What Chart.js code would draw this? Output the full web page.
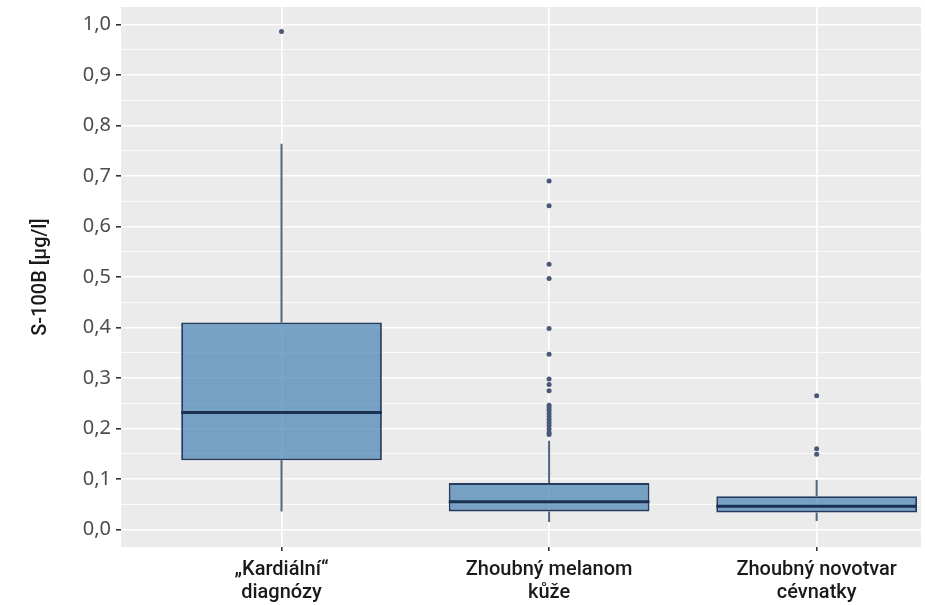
<!DOCTYPE html>
<html>
<head>
<meta charset="utf-8">
<script src="https://cdn.jsdelivr.net/npm/chart.js@4/dist/chart.umd.min.js"></script>
<style>
  html, body { margin: 0; padding: 0; background: #fff; overflow: hidden; }
  #wrap { width: 925px; height: 605px; }
</style>
</head>
<body>
<div id="wrap"><canvas id="chart" width="925" height="605"></canvas></div>
<script>
'use strict';
// categories (multi-line tick labels)
const CATEGORIES = [['„Kardiální“', 'diagnózy'], ['Zhoubný melanom', 'kůže'], ['Zhoubný novotvar', 'cévnatky']];
// box statistics per category
const WHISKER_LOW  = [0.036, 0.015, 0.017];
const Q1           = [0.137, 0.036, 0.034];
const MEDIAN       = [0.232, 0.055, 0.046];
const Q3           = [0.410, 0.092, 0.066];
const WHISKER_HIGH = [0.764, 0.176, 0.098];
const OUTLIERS = [
  [0.986],
  [0.690, 0.641, 0.525, 0.497, 0.398, 0.347, 0.298, 0.287, 0.275,
   0.246, 0.241, 0.236, 0.230, 0.224, 0.218, 0.212, 0.206, 0.199, 0.192, 0.188],
  [0.265, 0.160, 0.149],
];
const Y_TICKS = [0, 0.1, 0.2, 0.3, 0.4, 0.5, 0.6, 0.7, 0.8, 0.9, 1.0];

const BOX_WIDTH = 0.75;
const FONT = '"Noto Sans", "DejaVu Sans", sans-serif';
const FONT_MED = 'Roboto, "Noto Sans", sans-serif';

const pos = i => i + 1;

const boxData = Q1.map((q, i) => ({ x: pos(i), y: [q, Q3[i]] }));

const whiskerData = [];
WHISKER_LOW.forEach((lo, i) => {
  whiskerData.push({ x: pos(i), y: lo }, { x: pos(i), y: Q1[i] }, { x: pos(i), y: null });
  whiskerData.push({ x: pos(i), y: Q3[i] }, { x: pos(i), y: WHISKER_HIGH[i] }, { x: pos(i), y: null });
});

const medianData = [];
MEDIAN.forEach((m, i) => {
  medianData.push({ x: pos(i) - BOX_WIDTH / 2, y: m }, { x: pos(i) + BOX_WIDTH / 2, y: m }, { x: pos(i), y: null });
});

const outlierData = [];
OUTLIERS.forEach((list, i) => list.forEach(v => outlierData.push({ x: pos(i), y: v })));

// minor gridlines halfway between the labelled ticks
const yMinor = Y_TICKS.slice(0, -1).map((v, i) => (v + Y_TICKS[i + 1]) / 2);

const noPad = scale => {
  scale.paddingTop = 0; scale.paddingBottom = 0;
  scale.paddingLeft = 0; scale.paddingRight = 0;
};

const panelBg = {
  id: 'panelBg',
  beforeDraw(chart) {
    const { ctx, chartArea: a } = chart;
    ctx.save();
    ctx.fillStyle = '#ebebeb';
    ctx.fillRect(a.left, a.top, a.right - a.left, a.bottom - a.top);
    ctx.restore();
  },
};

new Chart(document.getElementById('chart'), {
  type: 'bar',
  data: {
    datasets: [
      {
        type: 'line',
        data: whiskerData,
        borderColor: '#52647e',
        borderWidth: 2,
        pointRadius: 0,
        spanGaps: false,
        order: 4,
      },
      {
        type: 'bar',
        data: boxData,
        backgroundColor: 'rgba(70,130,180,0.7)',
        borderColor: '#233b5d',
        borderWidth: 1.8,
        borderSkipped: false,
        categoryPercentage: 1,
        barPercentage: BOX_WIDTH,
        order: 3,
      },
      {
        type: 'line',
        data: medianData,
        borderColor: '#1c3152',
        borderWidth: 3,
        pointRadius: 0,
        spanGaps: false,
        order: 2,
      },
      {
        type: 'scatter',
        data: outlierData,
        backgroundColor: '#4a5877',
        borderWidth: 0,
        pointRadius: 2.5,
        order: 1,
      },
    ],
  },
  options: {
    responsive: false,
    devicePixelRatio: 1,
    animation: false,
    layout: { padding: { top: 7, right: 0, left: 0, bottom: 0 } },
    plugins: { legend: { display: false }, tooltip: { enabled: false } },
    scales: {
      x: {
        type: 'linear',
        min: 0.4, max: 3.39,
        offset: false,
        afterBuildTicks: scale => { scale.ticks = CATEGORIES.map((c, i) => ({ value: pos(i) })); },
        afterFit: scale => { scale.height = 58; noPad(scale); },
        border: { display: false },
        grid: { offset: false, color: '#ffffff', lineWidth: 1.6, tickColor: '#333333', tickLength: 4 },
        ticks: {
          autoSkip: false, maxRotation: 0, padding: 7,
          color: '#1a1a1a',
          font: { family: FONT_MED, size: 20, weight: '500', lineHeight: 1.15 },
          callback: (v, i) => CATEGORIES[i],
        },
      },
      y: {
        type: 'linear',
        min: -0.0345, max: 1.0345,
        afterBuildTicks: scale => {
          scale.ticks = Y_TICKS.map(v => ({ value: v }))
            .concat(yMinor.map(v => ({ value: v, minor: true })));
        },
        afterFit: scale => { scale.width = 121; noPad(scale); },
        border: { display: false },
        grid: {
          color: '#ffffff',
          lineWidth: ctx => (ctx.tick && ctx.tick.minor ? 0.8 : 1.6),
          tickColor: ctx => (ctx.tick && ctx.tick.minor ? 'rgba(0,0,0,0)' : '#333333'),
          tickLength: 5,
        },
        ticks: {
          padding: 5,
          color: '#4d4d4d',
          font: { family: FONT, size: 20 },
          callback: function (v, i, ticks) {
            return ticks[i].minor ? '' : v.toFixed(1).replace('.', ',');
          },
        },
        title: {
          display: true,
          text: 'S-100B [µg/l]',
          color: '#1a1a1a',
          font: { family: FONT_MED, size: 20, weight: '500' },
          padding: { top: 29, bottom: 0 },
        },
      },
    },
  },
  plugins: [panelBg],
});
</script>
</body>
</html>
